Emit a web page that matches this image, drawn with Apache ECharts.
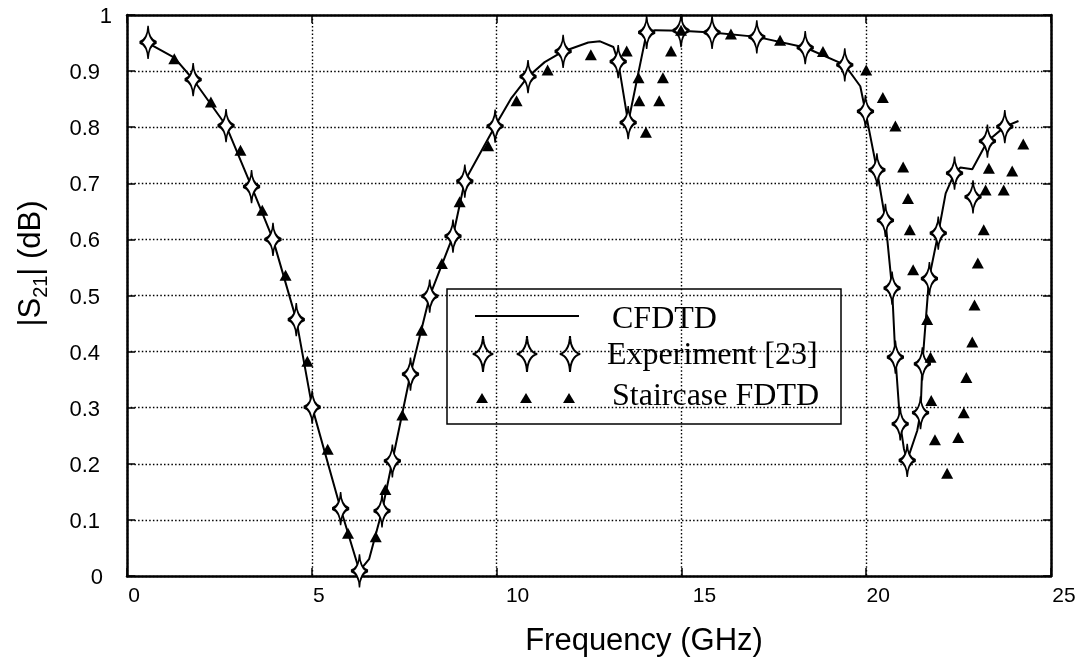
<!DOCTYPE html>
<html>
<head>
<meta charset="utf-8">
<title>|S21| vs Frequency</title>
<script src="https://cdn.jsdelivr.net/npm/echarts/dist/echarts.min.js"></script>
<style>
  html, body { margin: 0; padding: 0; background: #fff; }
  #chart { width: 1082px; height: 665px; }
</style>
</head>
<body>
<div id="chart"></div>
<script>
// CFDTD simulation (solid curve)
const freqCFDTD = [0.57, 1.28, 1.79, 2.68, 3.37, 3.95, 4.58, 5.01, 5.78, 6.29, 6.55, 6.90, 7.18, 7.67,
  8.19, 8.82, 9.14, 9.96, 10.40, 10.85, 11.30, 11.80, 12.48, 12.80, 13.16, 13.29, 13.56, 14.06, 14.29,
  14.99, 15.83, 17.04, 18.35, 19.42, 19.84, 19.98, 20.29, 20.52, 20.70, 20.79, 20.92, 21.02, 21.11,
  21.38, 21.47, 21.52, 21.70, 21.95, 22.15, 22.39, 22.55, 22.87, 23.28, 23.75, 24.12];
const s21CFDTD = [0.950, 0.924, 0.885, 0.803, 0.694, 0.600, 0.457, 0.301, 0.120, 0.009, 0.030, 0.116, 0.205, 0.360,
  0.499, 0.606, 0.704, 0.802, 0.852, 0.890, 0.916, 0.935, 0.951, 0.953, 0.943, 0.917, 0.808, 0.969, 0.973,
  0.972, 0.969, 0.961, 0.942, 0.911, 0.873, 0.828, 0.724, 0.634, 0.513, 0.390, 0.271, 0.227, 0.206,
  0.259, 0.291, 0.378, 0.530, 0.611, 0.682, 0.718, 0.728, 0.725, 0.775, 0.801, 0.811];

// Measured data, Experiment [23]
const freqExp = [0.57, 1.79, 2.68, 3.37, 3.95, 4.58, 5.01, 5.78, 6.29, 6.90, 7.18, 7.67, 8.19, 8.82, 9.14,
  9.96, 10.85, 11.80, 13.29, 13.56, 14.06, 14.99, 15.83, 17.04, 18.35, 19.42, 19.98, 20.29, 20.52, 20.70,
  20.79, 20.92, 21.11, 21.47, 21.52, 21.71, 21.95, 22.39, 22.89, 23.28, 23.75];
const s21Exp = [0.951, 0.885, 0.803, 0.694, 0.600, 0.457, 0.301, 0.120, 0.009, 0.116, 0.205, 0.360, 0.499, 0.606, 0.704,
  0.802, 0.890, 0.935, 0.917, 0.808, 0.969, 0.972, 0.969, 0.961, 0.942, 0.911, 0.828, 0.724, 0.634, 0.513,
  0.390, 0.271, 0.206, 0.291, 0.378, 0.530, 0.611, 0.718, 0.676, 0.775, 0.801];

// Staircase FDTD
const freqStair = [1.28, 2.27, 3.07, 3.66, 4.29, 4.88, 5.43, 5.98, 6.73, 6.99, 7.45, 7.97, 8.52, 9.00, 9.77,
  10.54, 11.38, 12.55, 13.52, 13.84, 13.86, 14.04, 14.40, 14.50, 14.72, 14.99, 16.34, 17.67, 18.83, 20.00,
  20.45, 20.79, 21.00, 21.13, 21.18, 21.27, 21.65, 21.74, 21.76, 21.86, 22.19, 22.49, 22.64, 22.71, 22.87,
  22.93, 23.02, 23.18, 23.23, 23.32, 23.72, 23.95, 24.25];
const s21Stair = [0.922, 0.845, 0.759, 0.652, 0.536, 0.383, 0.226, 0.076, 0.070, 0.154, 0.287, 0.438, 0.557, 0.667, 0.767,
  0.847, 0.902, 0.929, 0.936, 0.888, 0.847, 0.791, 0.847, 0.888, 0.936, 0.973, 0.966, 0.955, 0.935, 0.902,
  0.853, 0.802, 0.729, 0.673, 0.617, 0.546, 0.457, 0.390, 0.313, 0.243, 0.183, 0.247, 0.291, 0.354, 0.417,
  0.483, 0.558, 0.617, 0.688, 0.727, 0.688, 0.722, 0.770];

const xTickLabels = ['0', '5', '10', '15', '20', '25'];
const seriesNames = ['CFDTD', 'Experiment [23]', 'Staircase FDTD'];

const zip = (xs, ys) => xs.map((x, i) => [x, ys[i]]);

// four-pointed star with long, thin vertical spikes
const STAR_CTRL = 0.7;
const starPath = 'M0,-20 Q' + STAR_CTRL + ',-3 10,0 Q' + STAR_CTRL + ',3 0,20 Q-' + STAR_CTRL +
  ',3 -10,0 Q-' + STAR_CTRL + ',-3 0,-20 Z';

// the same star as a polygon, for the legend swatches
function starPolygon(cx, cy, w, h) {
  const tips = [[0, -20], [10, 0], [0, 20], [-10, 0], [0, -20]];
  const ctrls = [[STAR_CTRL, -3], [STAR_CTRL, 3], [-STAR_CTRL, 3], [-STAR_CTRL, -3]];
  const pts = [];
  for (let k = 0; k < 4; k++) {
    const p0 = tips[k], p1 = ctrls[k], p2 = tips[k + 1];
    for (let s = 0; s < 10; s++) {
      const t = s / 10, u = 1 - t;
      const x = u * u * p0[0] + 2 * u * t * p1[0] + t * t * p2[0];
      const y = u * u * p0[1] + 2 * u * t * p1[1] + t * t * p2[1];
      pts.push([cx + x * w / 20, cy + y * h / 40]);
    }
  }
  return pts;
}

const SANS = '"Liberation Sans", Arial, sans-serif';
const SERIF = '"Liberation Serif", "Times New Roman", serif';

// per-label horizontal nudges of the frequency tick labels
const xLabelRich = {};
[14, 14, 42, 46, 24, 26].forEach((p, i) => {
  xLabelRich['x' + i] = { fontSize: 21, fontFamily: SANS, color: '#000', padding: [0, 0, 0, p] };
});

const frame = { show: true, onZero: false, lineStyle: { color: '#000', width: 2.5 } };
const ticksIn = { show: true, inside: true, length: 8, lineStyle: { color: '#000', width: 1.5 } };
const dotted = { show: true, lineStyle: { color: '#000', width: 1.4, type: [1.5, 2.2] } };

const chart = echarts.init(document.getElementById('chart'), null, { renderer: 'canvas' });

const legendX = [483, 527, 570];
const legendGraphics = [
  { type: 'rect', shape: { x: 447, y: 289, width: 394, height: 135 },
    style: { fill: '#fff', stroke: '#000', lineWidth: 1.5 } },
  { type: 'line', shape: { x1: 475, y1: 316, x2: 579, y2: 316 },
    style: { stroke: '#000', lineWidth: 2 } }
];
legendX.forEach(cx => {
  legendGraphics.push({
    type: 'polygon',
    shape: { points: starPolygon(cx, 354, 20, 36) },
    style: { fill: '#fff', stroke: '#000', lineWidth: 2, lineJoin: 'bevel' }
  });
  legendGraphics.push({
    type: 'polygon',
    shape: { points: [[cx - 1, 393], [cx + 5, 403], [cx - 7, 403]] },
    style: { fill: '#000' }
  });
});
[[612, 320], [607, 356], [612, 397]].forEach((pos, i) => {
  legendGraphics.push({
    type: 'text', x: pos[0], y: pos[1],
    style: { text: seriesNames[i], fontSize: 32, fontFamily: SERIF, fill: '#000',
             align: 'left', textAlign: 'left', verticalAlign: 'middle', textVerticalAlign: 'middle' }
  });
});

const option = {
  animation: false,
  backgroundColor: '#fff',
  grid: { left: 127, right: 31, top: 15, bottom: 89 },
  xAxis: [
    {
      type: 'value', min: 0, max: 25, interval: 5, position: 'bottom',
      axisLine: frame, axisTick: ticksIn, splitLine: dotted,
      axisLabel: {
        margin: 10,
        formatter: (v, i) => '{x' + i + '|' + xTickLabels[i] + '}',
        rich: xLabelRich
      }
    },
    {
      type: 'value', min: 0, max: 25, interval: 5, position: 'top',
      axisLine: frame, axisTick: ticksIn, splitLine: { show: false }, axisLabel: { show: false }
    }
  ],
  yAxis: [
    {
      type: 'value', min: 0, max: 1, interval: 0.1, position: 'left',
      axisLine: frame, axisTick: ticksIn, splitLine: dotted,
      axisLabel: {
        margin: 15,
        formatter: v => {
          const s = String(+v.toFixed(1));
          if (v > 0.999) return '{one|' + s + '}';
          if (v < 0.001) return '{zero|' + s + '}';
          return '{n|' + s + '}';
        },
        rich: {
          n: { fontSize: 22, fontFamily: SANS, color: '#000', padding: [4, 12, 0, 0] },
          one: { fontSize: 22, fontFamily: SANS, color: '#000', padding: [4, 0, 0, 0] },
          zero: { fontSize: 22, fontFamily: SANS, color: '#000', padding: [4, 9, 0, 0] }
        }
      }
    },
    {
      type: 'value', min: 0, max: 1, interval: 0.1, position: 'right',
      axisLine: frame, axisTick: ticksIn, splitLine: { show: false }, axisLabel: { show: false }
    }
  ],
  series: [
    {
      name: seriesNames[0], type: 'line', data: zip(freqCFDTD, s21CFDTD),
      showSymbol: false, symbol: 'none', z: 2,
      lineStyle: { color: '#000', width: 2 }
    },
    {
      name: seriesNames[1], type: 'scatter', data: zip(freqExp, s21Exp),
      symbol: 'path://' + starPath, symbolSize: [17, 33], z: 3,
      itemStyle: { color: '#fff', borderColor: '#000', borderWidth: 2, borderJoin: 'bevel', opacity: 1 }
    },
    {
      name: seriesNames[2], type: 'scatter', data: zip(freqStair, s21Stair),
      symbol: 'triangle', symbolSize: [12, 11], z: 4,
      itemStyle: { color: '#000', opacity: 1 }
    }
  ],
  graphic: [
    {
      type: 'text', x: 644, y: 641, z: 10,
      style: { text: 'Frequency (GHz)', fontSize: 31, fontFamily: SANS, fill: '#000',
               align: 'center', textAlign: 'center', verticalAlign: 'middle', textVerticalAlign: 'middle' }
    },
    {
      type: 'text', x: 31, y: 263.5, rotation: Math.PI / 2, z: 10,
      style: {
        text: '{a||S}{b|21}{a|| (dB)}',
        align: 'center', textAlign: 'center', verticalAlign: 'middle', textVerticalAlign: 'middle',
        rich: {
          a: { fontSize: 31, fontFamily: SANS, fill: '#000', color: '#000', lineHeight: 40 },
          b: { fontSize: 20, fontFamily: SANS, fill: '#000', color: '#000', lineHeight: 20, verticalAlign: 'bottom' }
        }
      }
    },
    { type: 'group', z: 20, children: legendGraphics }
  ]
};

chart.setOption(option);
</script>
</body>
</html>
